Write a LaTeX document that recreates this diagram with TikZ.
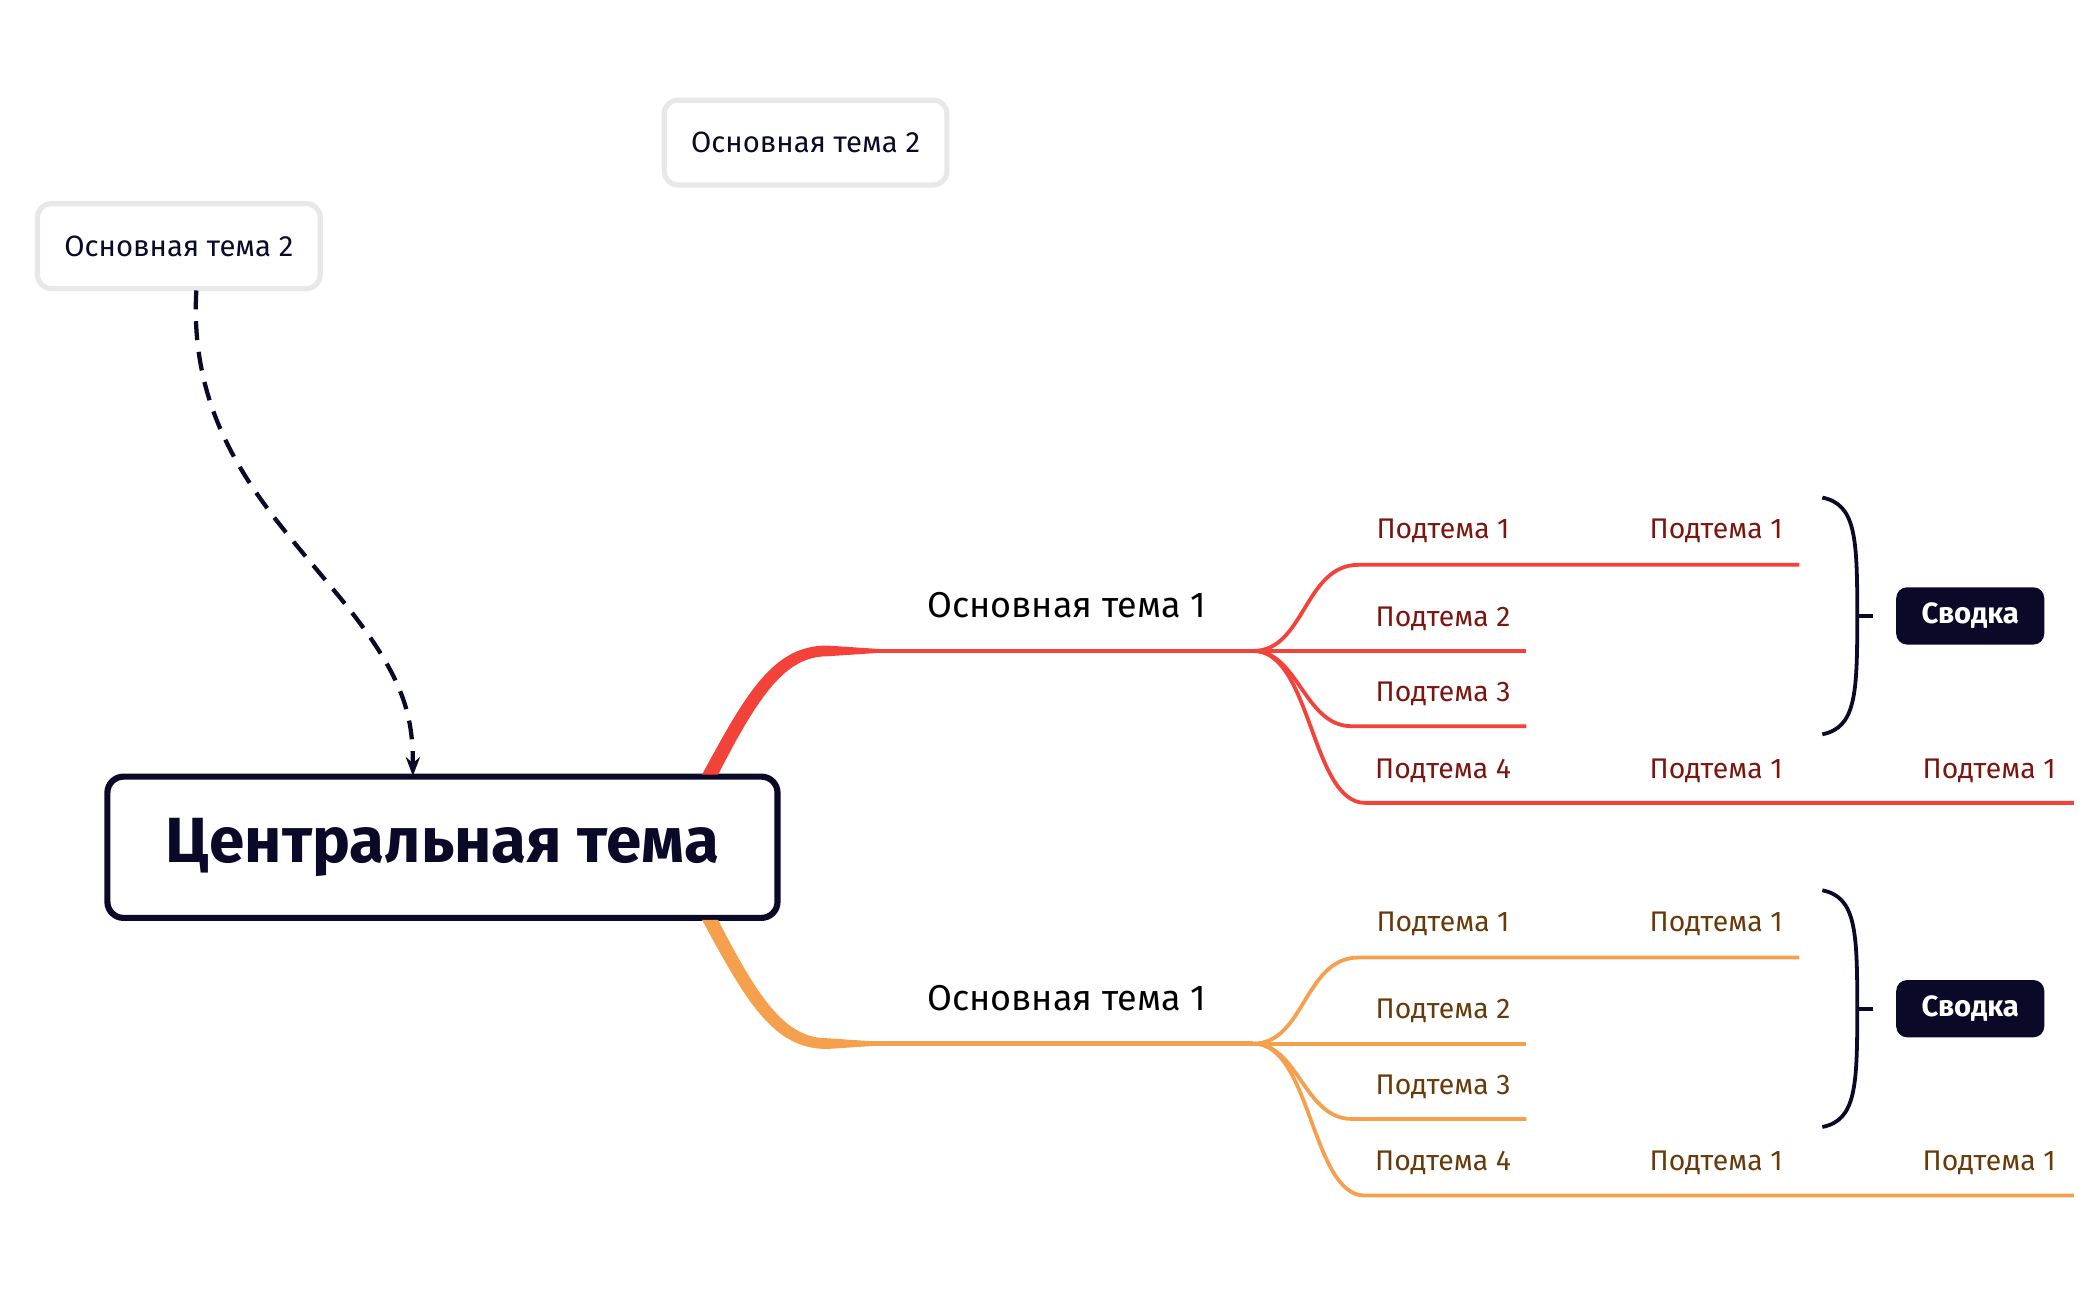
\documentclass[tikz,border=0pt]{standalone}
\usepackage{fontspec}
\setmainfont{Fira Sans}
\usetikzlibrary{positioning,arrows.meta,calc}
\definecolor{navy}{RGB}{10,10,40}
\definecolor{boxgray}{RGB}{232,232,232}
\definecolor{redline}{RGB}{242,66,58}
\definecolor{redtext}{RGB}{122,22,14}
\definecolor{orangeline}{RGB}{244,160,76}
\definecolor{orangetext}{RGB}{104,58,10}

\begin{document}
\begin{tikzpicture}[x=0.01cm, y=-0.01cm]
    \tikzset{central/.style={rectangle, rounded corners=0.12cm, draw=navy, line width=1.3pt, minimum width=4.98cm, minimum height=1.05cm, text=navy, font=\bfseries\fontsize{13.5}{16}\selectfont},
             floating/.style={rectangle, rounded corners=0.1cm, draw=boxgray, line width=1.1pt, minimum width=2.1cm, minimum height=0.63cm, text=navy, font=\fontsize{6.2}{7}\selectfont},
             maintopic/.style={text=black, font=\fontsize{7.6}{8}\selectfont},
             subtopic/.style={font=\fontsize{6}{7}\selectfont},
             summary/.style={rectangle, rounded corners=0.08cm, fill=navy, text=white, minimum width=1.1cm, minimum height=0.42cm, font=\bfseries\fontsize{6.2}{7}\selectfont}}
    \useasboundingbox (0,0) rectangle (1560,967);

    % Topics
    \node [central] (central) at (329,630) {Центральная тема};
    \node [floating] (floatA) at (599,106) {Основная тема 2};
    \node [floating] (floatB) at (133,183) {Основная тема 2};

    % Relationship
    \coordinate (relstart) at (146,216);
    \coordinate (relend) at (307,577);
    \draw [navy, line width=0.9pt, dash pattern=on 4pt off 2.5pt, -{Stealth[length=4pt]}]
        (relstart) .. controls (140,320) and (200,380) .. (245,435) .. controls (300,500) and (307,530) .. (relend);

    % Tapered roots
    \foreach \br/\flip in {red/1, orange/-1} {
        \begin{scope}[shift={(0,630)}, yscale=\flip, shift={(0,-630)}]
            \fill [\br line] (522,576) .. controls (555,515) and (575,480) .. (615,480) -- (660,483) -- (660,485)
                -- (615,488) .. controls (585,488) and (565,515) .. (534,576) -- cycle;
        \end{scope}
    }

    % Branches
    \foreach \br/\dy in {red/0, orange/292} {
        \begin{scope}[yshift=-\dy*0.01cm]
            \coordinate (hub) at (932,484);
            \draw [\br line, line width=0.9pt] (615,484) -- (hub);
            \node [maintopic] (main) at (793,450) {Основная тема 1};

            \draw [\br line, line width=0.8pt] (hub) .. controls (970,484) and (970,420) .. (1010,420) -- (1338,420);
            \draw [\br line, line width=0.8pt] (hub) -- (1135,484);
            \draw [\br line, line width=0.8pt] (hub) .. controls (965,484) and (970,540) .. (1005,540) -- (1135,540);
            \draw [\br line, line width=0.8pt] (hub) .. controls (975,484) and (975,597) .. (1015,597) -- (1542,597);

            \node [subtopic, text=\br text] (subA) at (1073,395) {Подтема 1};
            \node [subtopic, text=\br text] (subAA) at (1276,395) {Подтема 1};
            \node [subtopic, text=\br text] (subB) at (1073,460) {Подтема 2};
            \node [subtopic, text=\br text] (subC) at (1073,516) {Подтема 3};
            \node [subtopic, text=\br text] (subD) at (1073,573) {Подтема 4};
            \node [subtopic, text=\br text] (subDA) at (1276,573) {Подтема 1};
            \node [subtopic, text=\br text] (subDB) at (1479,573) {Подтема 1};

            % Summary
            \node [summary] (summary) at (1465,458) {Сводка};
            \draw [navy, line width=0.8pt] (1355,370) .. controls (1380,375) and (1381,400) .. (1381,458)
                .. controls (1381,516) and (1380,541) .. (1355,546);
            \draw [navy, line width=0.8pt] (1381,458) -- (1393,458);
        \end{scope}
    }
\end{tikzpicture}
\end{document}
